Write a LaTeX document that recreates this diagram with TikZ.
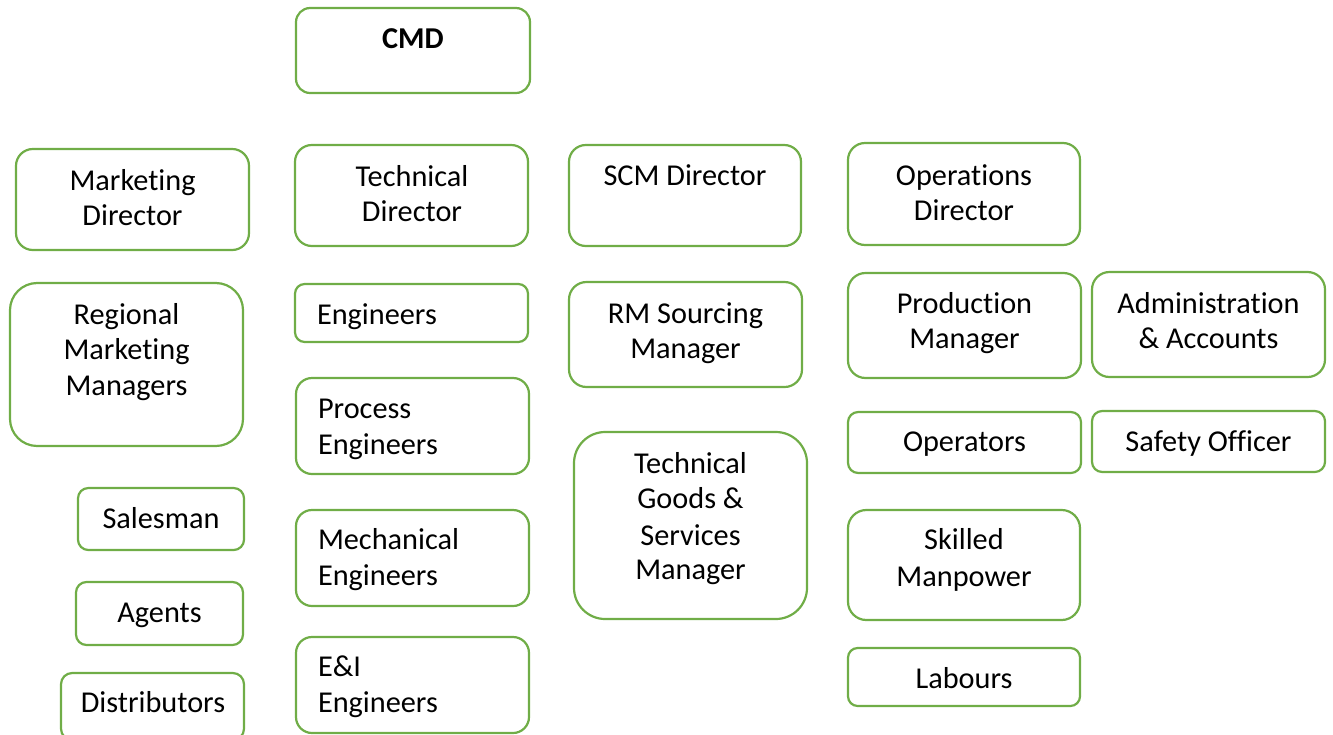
\documentclass[tikz,border=0pt]{standalone}
\usepackage{fontspec}
\setmainfont{Carlito}[Ligatures=NoCommon]
\definecolor{boxgreen}{HTML}{70AD47}
\tikzset{
  box/.style={draw=boxgreen, line width=2.2pt, inner sep=0pt, outer sep=0pt},
  txt/.style={inner sep=0pt, outer sep=0pt, font=\fontsize{30.3}{36}\selectfont, text=black},
  txtc/.style={txt, anchor=base},
  txtl/.style={txt, anchor=base west}
}
% \bx{name}{x1}{y1}{x2}{y2}
\newcommand\bx[5]{%
  \node[box, minimum width={(#4-#2)*1pt}, minimum height={(#5-#3)*1pt},
        rounded corners={0.1667*min(#4-#2,#5-#3)*1pt}]
        (#1) at ({(#2+#4)/2},{(#3+#5)/2}) {};}
\begin{document}
\begin{tikzpicture}[x=1pt,y=-1pt]
\useasboundingbox (0,0) rectangle (1333,734);
% boxes
\bx{cmd}{296}{8}{530}{93}
\bx{mkd}{16}{149}{249}{250}
\bx{tcd}{295}{145}{528}{246}
\bx{scm}{569}{145}{801}{246}
\bx{opd}{848}{143}{1080}{245}
\bx{rmm}{10}{283}{243}{446}
\bx{eng}{295}{284}{528}{342}
\bx{rms}{569}{282}{802}{387}
\bx{prm}{848}{273}{1081}{378}
\bx{adm}{1092}{272}{1325}{377}
\bx{pre}{296}{378}{529}{474}
\bx{tgs}{574}{432}{807}{619}
\bx{opr}{848}{412}{1081}{473}
\bx{saf}{1092}{411}{1325}{472}
\bx{sal}{78}{488}{244}{550}
\bx{mce}{296}{510}{529}{606}
\bx{skm}{848}{510}{1080}{620}
\bx{agt}{76}{582}{243}{645}
\bx{eie}{296}{637}{529}{733}
\bx{lab}{848}{648}{1080}{706}
\bx{dis}{61}{673}{244}{740}
% texts
\node[txtc, font=\fontsize{30.3}{36}\selectfont\bfseries] (cmdT) at (413,48) {CMD};
\node[txtc] (mkdT1) at (132.5,190) {Marketing};
\node[txtc] (mkdT2) at (132.5,225) {Director};
\node[txtc] (tcdT1) at (412,186) {Technical};
\node[txtc] (tcdT2) at (412,221) {Director};
\node[txtc] (scmT) at (685,185) {SCM Director};
\node[txtc] (opdT1) at (964,185) {Operations};
\node[txtc] (opdT2) at (964,220) {Director};
\node[txtc] (rmmT1) at (126.5,324) {Regional};
\node[txtc] (rmmT2) at (126.5,359) {Marketing};
\node[txtc] (rmmT3) at (126.5,395) {Managers};
\node[txtl] (engT) at (317,324) {Engineers};
\node[txtc] (rmsT1) at (685.5,323) {RM Sourcing};
\node[txtc] (rmsT2) at (685.5,358) {Manager};
\node[txtc] (prmT1) at (964.5,313) {Production};
\node[txtc] (prmT2) at (964.5,348) {Manager};
\node[txtc] (admT1) at (1208.5,313) {Administration};
\node[txtc] (admT2) at (1208.5,348) {\& Accounts};
\node[txtl] (preT1) at (318,418) {Process};
\node[txtl] (preT2) at (318,454) {Engineers};
\node[txtc] (tgsT1) at (690.5,473) {Technical};
\node[txtc] (tgsT2) at (690.5,508) {Goods \&};
\node[txtc] (tgsT3) at (690.5,545) {Services};
\node[txtc] (tgsT4) at (690.5,579) {Manager};
\node[txtc] (oprT) at (964.5,451) {Operators};
\node[txtc] (safT) at (1208.5,451) {Safety Officer};
\node[txtc] (salT) at (161,528) {Salesman};
\node[txtl] (mceT1) at (318,549) {Mechanical};
\node[txtl] (mceT2) at (318,585) {Engineers};
\node[txtc] (skmT1) at (964,549) {Skilled};
\node[txtc] (skmT2) at (964,586) {Manpower};
\node[txtc] (agtT) at (159.5,622) {Agents};
\node[txtl] (eieT1) at (318,676) {E\&I};
\node[txtl] (eieT2) at (318,712) {Engineers};
\node[txtc] (labT) at (964,688) {Labours};
\node[txtc] (disT) at (153,712) {Distributors};
\end{tikzpicture}
\end{document}
